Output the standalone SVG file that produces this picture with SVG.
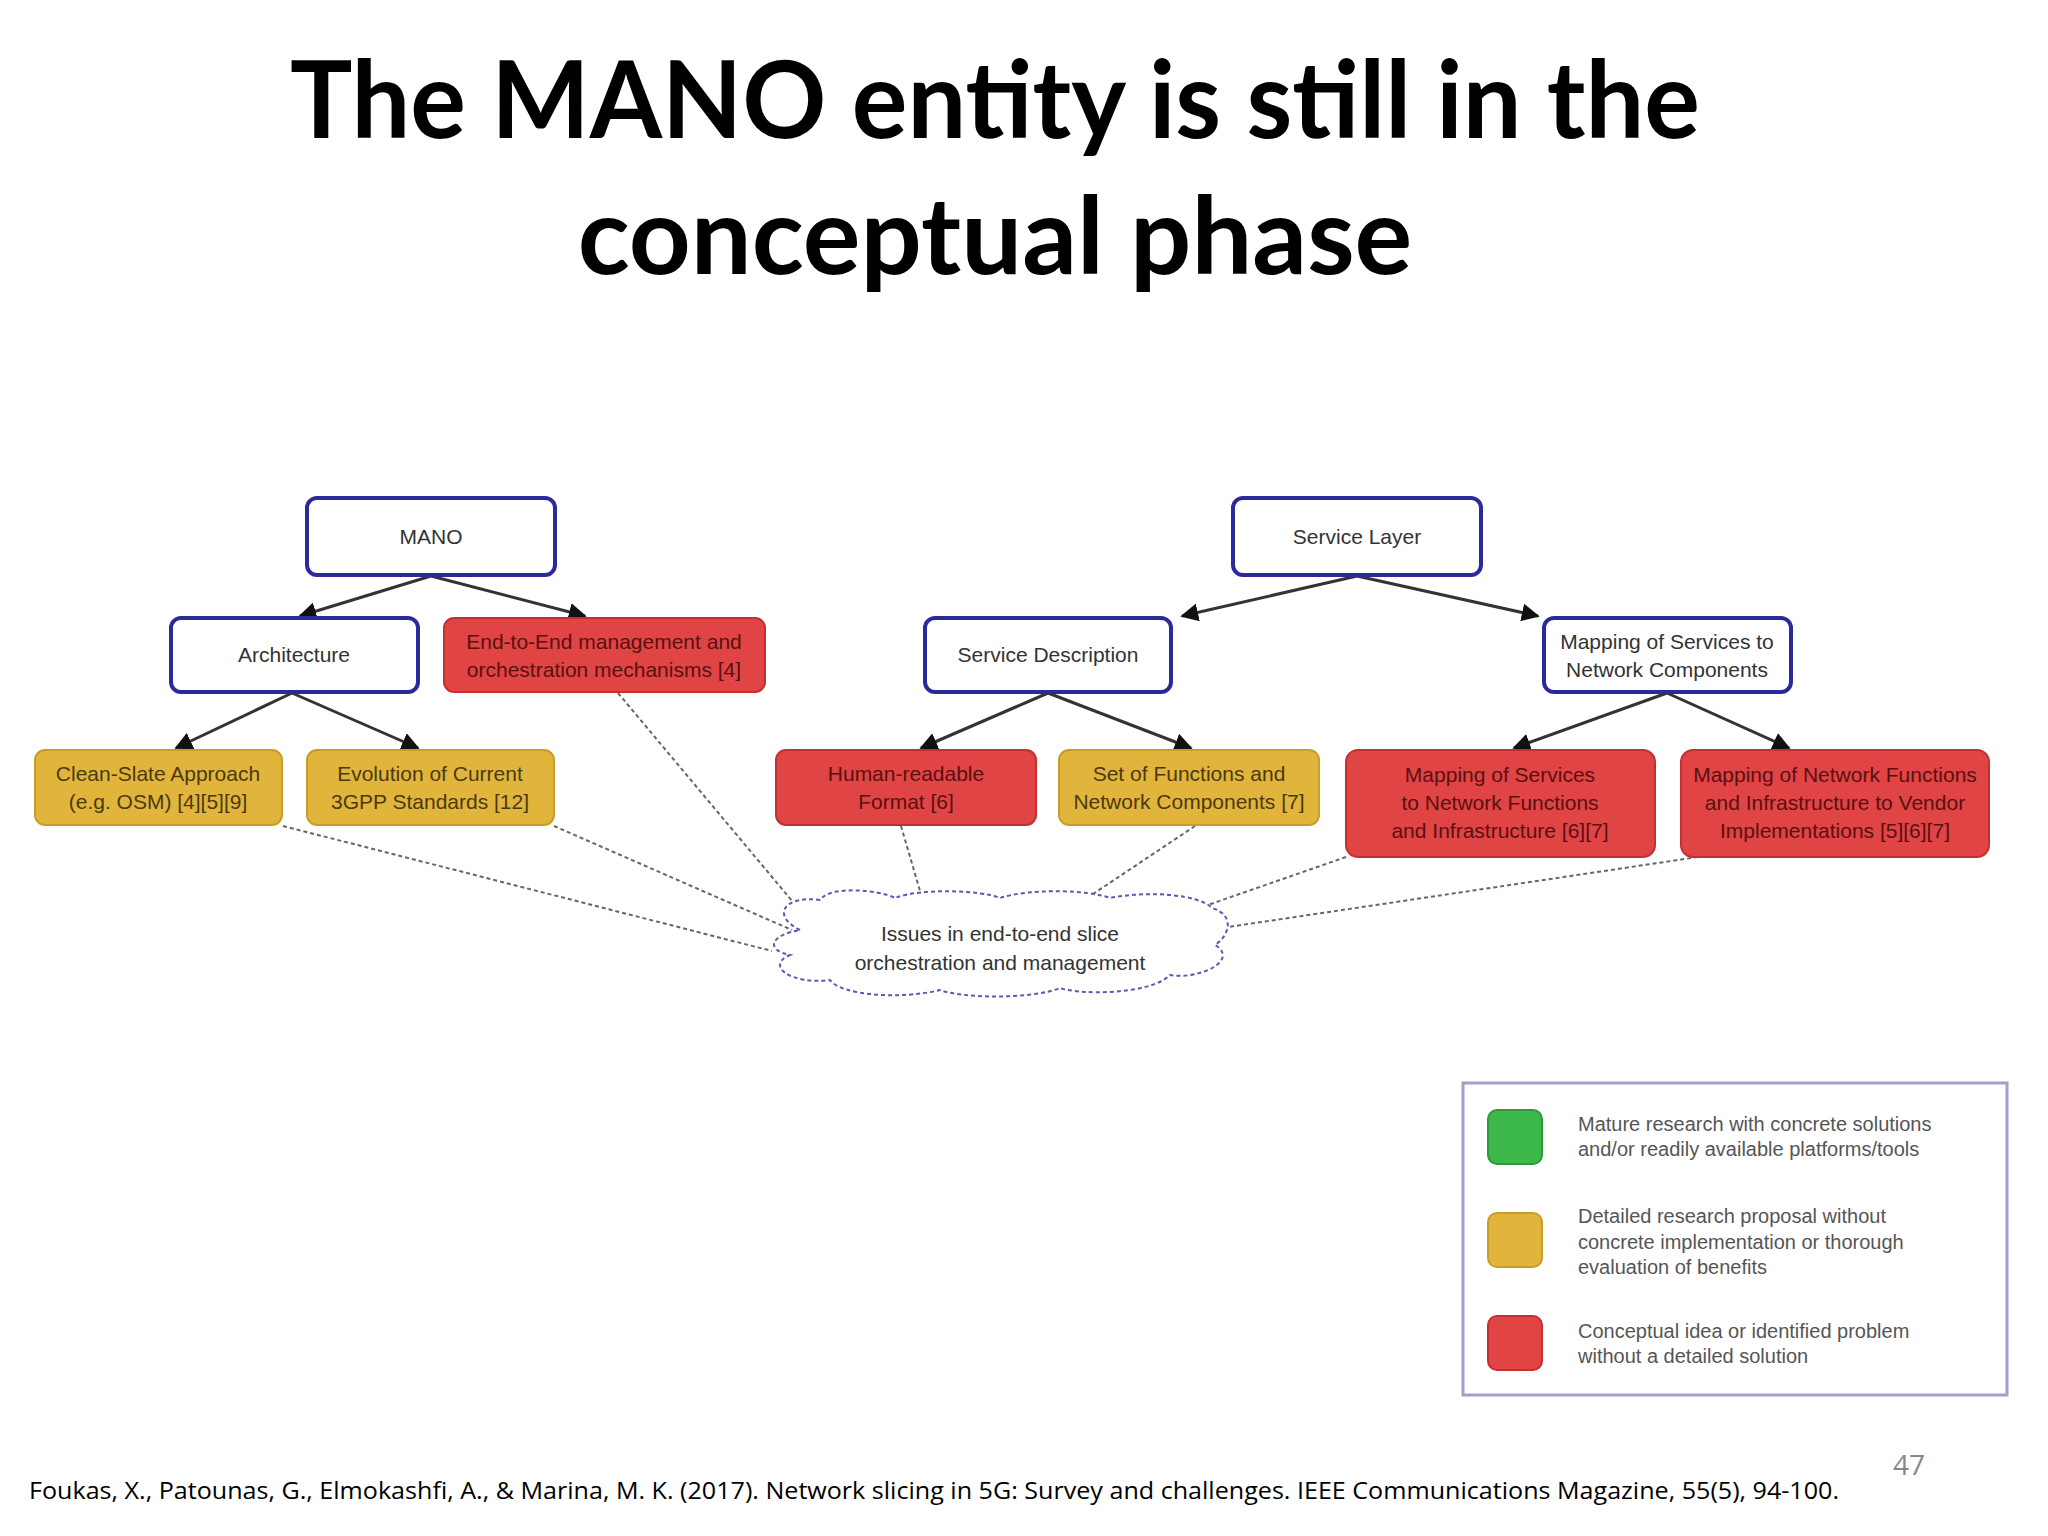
<svg xmlns="http://www.w3.org/2000/svg" width="2048" height="1536" viewBox="0 0 2048 1536">
<defs>
<marker id="ah" viewBox="0 0 10 10" refX="9" refY="5" markerWidth="6" markerHeight="6" orient="auto"><path d="M0,0 L10,5 L0,10 z" fill="#111"/></marker>
<style>
.title{font-family:Lato,"Open Sans",sans-serif;font-weight:bold;font-size:108px;fill:#000;text-anchor:middle}
.blue{fill:#fff;stroke:#2a2a9a;stroke-width:4}
.red{fill:#e04444;stroke:#c43030;stroke-width:2}
.yel{fill:#e1b53c;stroke:#c99d2a;stroke-width:2}
.t{font-family:"Liberation Sans",Arial,sans-serif;font-size:21px;fill:#333;text-anchor:middle}
.tr{font-family:"Liberation Sans",Arial,sans-serif;font-size:21px;fill:#5a1010;text-anchor:middle}
.ty{font-family:"Liberation Sans",Arial,sans-serif;font-size:21px;fill:#4a3a10;text-anchor:middle}
.arr{stroke:#333;stroke-width:3;fill:none;marker-end:url(#ah)}
.dot{stroke:#666;stroke-width:2;stroke-dasharray:4 3;fill:none}
.lg{font-family:"Liberation Sans",Arial,sans-serif;font-size:20px;fill:#555}
.ft{font-family:"Open Sans",Lato,sans-serif;font-size:23px;fill:#000}
</style>
</defs>
<rect width="2048" height="1536" fill="#fff"/>
<text class="title" x="995" y="138" textLength="1410" lengthAdjust="spacingAndGlyphs">The MANO entity is still in the</text>
<text class="title" x="995" y="274">conceptual phase</text>

<g id="connectors">
<line class="arr" x1="431" y1="576" x2="300" y2="616"/>
<line class="arr" x1="431" y1="576" x2="585" y2="616"/>
<line class="arr" x1="1357" y1="576" x2="1182" y2="616"/>
<line class="arr" x1="1357" y1="576" x2="1538" y2="616"/>
<line class="arr" x1="292" y1="693" x2="176" y2="748"/>
<line class="arr" x1="292" y1="693" x2="418" y2="748"/>
<line class="arr" x1="1048" y1="693" x2="921" y2="748"/>
<line class="arr" x1="1048" y1="693" x2="1191" y2="748"/>
<line class="arr" x1="1667" y1="693" x2="1514" y2="748"/>
<line class="arr" x1="1667" y1="693" x2="1789" y2="748"/>
<line class="dot" x1="283" y1="826" x2="772" y2="951"/>
<line class="dot" x1="554" y1="826" x2="792" y2="930"/>
<line class="dot" x1="618" y1="693" x2="803" y2="914"/>
<line class="dot" x1="901" y1="826" x2="925" y2="908"/>
<line class="dot" x1="1195" y1="826" x2="1084" y2="900"/>
<line class="dot" x1="1346" y1="857" x2="1205" y2="906"/>
<line class="dot" x1="1698" y1="857" x2="1228" y2="927"/>
</g>

<g id="mano"><rect class="blue" x="307" y="498" width="248" height="77" rx="10"/><text class="t" x="431" y="544" font-size="19">MANO</text></g>
<g id="service-layer"><rect class="blue" x="1233" y="498" width="248" height="77" rx="10"/><text class="t" x="1357" y="544" font-size="19">Service Layer</text></g>
<g id="architecture"><rect class="blue" x="171" y="618" width="247" height="74" rx="10"/><text class="t" x="294" y="662">Architecture</text></g>
<g id="e2e"><rect class="red" x="444" y="618" width="321" height="74" rx="10"/><text class="tr" x="604" y="649">End-to-End management and</text><text class="tr" x="604" y="677">orchestration mechanisms [4]</text></g>
<g id="service-description"><rect class="blue" x="925" y="618" width="246" height="74" rx="10"/><text class="t" x="1048" y="662">Service Description</text></g>
<g id="mapping-nc"><rect class="blue" x="1544" y="618" width="247" height="74" rx="10"/><text class="t" x="1667" y="649">Mapping of Services to</text><text class="t" x="1667" y="677">Network Components</text></g>
<g id="clean-slate"><rect class="yel" x="35" y="750" width="247" height="75" rx="10"/><text class="ty" x="158" y="781">Clean-Slate Approach</text><text class="ty" x="158" y="809">(e.g. OSM) [4][5][9]</text></g>
<g id="evolution"><rect class="yel" x="307" y="750" width="247" height="75" rx="10"/><text class="ty" x="430" y="781">Evolution of Current</text><text class="ty" x="430" y="809">3GPP Standards [12]</text></g>
<g id="human"><rect class="red" x="776" y="750" width="260" height="75" rx="10"/><text class="tr" x="906" y="781">Human-readable</text><text class="tr" x="906" y="809">Format [6]</text></g>
<g id="set-functions"><rect class="yel" x="1059" y="750" width="260" height="75" rx="10"/><text class="ty" x="1189" y="781">Set of Functions and</text><text class="ty" x="1189" y="809">Network Components [7]</text></g>
<g id="mapping-nf"><rect class="red" x="1346" y="750" width="309" height="107" rx="12"/><text class="tr" x="1500" y="782">Mapping of Services</text><text class="tr" x="1500" y="810">to Network Functions</text><text class="tr" x="1500" y="838">and Infrastructure [6][7]</text></g>
<g id="mapping-vendor"><rect class="red" x="1681" y="750" width="308" height="107" rx="12"/><text class="tr" x="1835" y="782" font-size="19">Mapping of Network Functions</text><text class="tr" x="1835" y="810" font-size="19">and Infrastructure to Vendor</text><text class="tr" x="1835" y="838" font-size="19">Implementations [5][6][7]</text></g>
<g id="issues-cloud">
<path d="M800,930 C770,915 785,895 820,900 C830,885 880,890 895,898 C920,888 980,890 1000,898 C1030,888 1090,890 1110,898 C1150,890 1200,895 1212,908 C1235,915 1230,935 1215,945 C1240,960 1200,980 1170,975 C1150,995 1080,995 1060,988 C1030,1000 960,998 940,990 C900,1000 840,995 830,980 C790,985 765,965 790,955 C765,950 770,935 800,930 z" fill="#fff" stroke="#5a5ab0" stroke-width="2" stroke-dasharray="4 3"/>
<text class="t" x="1000" y="941">Issues in end-to-end slice</text><text class="t" x="1000" y="970">orchestration and management</text>
</g>

<g id="legend">
<rect x="1463" y="1083" width="544" height="312" fill="#fff" stroke="#a0a0c8" stroke-width="3"/>
<rect x="1488" y="1110" width="54" height="54" rx="9" fill="#3db84a" stroke="#2e9a3a" stroke-width="2"/>
<rect x="1488" y="1213" width="54" height="54" rx="9" fill="#e1b53c" stroke="#c99d2a" stroke-width="2"/>
<rect x="1488" y="1316" width="54" height="54" rx="9" fill="#e04444" stroke="#c43030" stroke-width="2"/>
<text class="lg" x="1578" y="1131">Mature research with concrete solutions</text>
<text class="lg" x="1578" y="1156">and/or readily available platforms/tools</text>
<text class="lg" x="1578" y="1223">Detailed research proposal without</text>
<text class="lg" x="1578" y="1249">concrete implementation or thorough</text>
<text class="lg" x="1578" y="1274">evaluation of benefits</text>
<text class="lg" x="1578" y="1338">Conceptual idea or identified problem</text>
<text class="lg" x="1578" y="1363">without a detailed solution</text>
</g>

<text class="ft" x="29" y="1499" textLength="1810" lengthAdjust="spacingAndGlyphs">Foukas, X., Patounas, G., Elmokashfi, A., &amp; Marina, M. K. (2017). Network slicing in 5G: Survey and challenges. IEEE Communications Magazine, 55(5), 94-100.</text>
<text x="1909" y="1475" font-family="Open Sans,sans-serif" font-size="28" fill="#888" text-anchor="middle">47</text>
</svg>
